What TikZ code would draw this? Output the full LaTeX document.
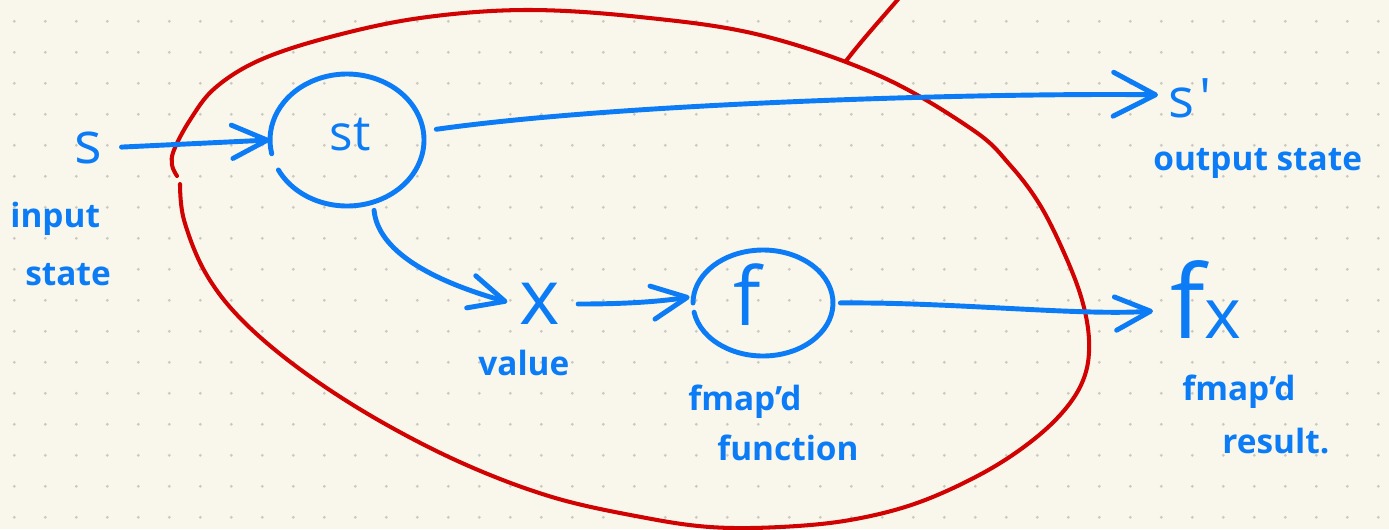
\documentclass[tikz,border=0pt]{standalone}
\usepackage{fontspec}
\setmainfont{Open Sans}
\usetikzlibrary{arrows.meta,shapes.geometric,calc}
\definecolor{paper}{RGB}{249,247,236}
\definecolor{griddot}{RGB}{203,201,193}
\definecolor{ink}{RGB}{12,124,246}
\definecolor{marker}{RGB}{208,2,2}
\begin{document}
\begin{tikzpicture}[x=0.02cm,y=-0.02cm,
  pen/.style={draw=ink,line width=2.8pt,line cap=round,line join=round},
  arr/.style={pen,-{Straight Barb[length=20pt,width=19pt,round]}},
  lbl/.style={text=ink,inner sep=0,font=\bfseries\fontsize{19}{21}\selectfont},
  sym/.style={text=ink,inner sep=0},
  ring/.style={ellipse,inner sep=0},
  loop/.style={draw=marker,line width=2.3pt,line cap=round,line join=round}]

% dotted paper
\fill[paper] (0,0) rectangle (1389,529);
\useasboundingbox (0,0) rectangle (1389,529);
\foreach \i in {0,...,44}
  \foreach \j in {0,...,16}
    \fill[griddot] (14.3+31*\i,21.3+31*\j) circle[radius=0.9pt];

% red loop around the state step
\draw[loop] plot[smooth,tension=0.6] coordinates {
  (180,184) (184,220) (205,272) (240,318) (297,367) (373,417) (462,463)
  (552,497) (641,517) (710,527) (780,527) (850,520) (917,503) (983,473)
  (1033,440) (1067,407) (1085,375) (1089,340) (1082,300) (1065,255)
  (1040,205) (1010,165) (973,130) (880,76) (760,35) (640,17) (525,10)
  (420,18) (330,37) (260,60) (215,88) (190,120) (174,150) (172,165)
  (177,176)};
\coordinate (fork) at (846,61);
\draw[loop] (fork) .. controls (862,40) and (882,18) .. (900,-3);

% input state
\node[sym,font=\fontsize{33}{33}\selectfont] (s) at (88,148) {s};
\node[lbl,anchor=base west] (in1) at (10,227) {input};
\node[lbl,anchor=base west] (in2) at (25,285) {state};

% st
\node[ring,minimum width=3.08cm,minimum height=2.64cm] (stc) at (347,140) {};
\draw[pen] ([shift={(207:1.54cm and 1.32cm)}]stc.center)
  arc[start angle=207,end angle=552,x radius=1.54cm,y radius=1.32cm];
\node[sym,font=\fontsize{28}{28}\selectfont,anchor=base] (st) at (350,150) {st};

% output state
\node[sym,font=\fontsize{31}{31}\selectfont,anchor=base west] (sp) at (1168,117) {s\kern3pt\textquotesingle};
\node[lbl,anchor=base west] (outl) at (1153,170) {output state};

% value
\node[sym,font=\fontsize{44}{44}\selectfont] (x) at (540,304) {x};
\node[lbl,anchor=base west] (vall) at (478,375) {value};

% f
\node[ring,minimum width=2.8cm,minimum height=2.12cm] (fc) at (763,303) {};
\draw[pen] ([shift={(190:1.4cm and 1.06cm)}]fc.center)
  arc[start angle=190,end angle=540,x radius=1.4cm,y radius=1.06cm];
\node[sym,font=\fontsize{46}{46}\selectfont,anchor=base] (f) at (747,325) {f};
\node[lbl,anchor=base west] (fn1) at (688,410) {fmap'd};
\node[lbl,anchor=base west] (fn2) at (717,460) {function};

% fx
\node[sym,anchor=base west] (fx) at (1170,338) {{\fontsize{58}{58}\selectfont f}{\fontsize{40}{40}\selectfont x}};
\node[lbl,anchor=base west] (fr1) at (1182,400) {fmap'd};
\node[lbl,anchor=base west] (fr2) at (1222,453) {result.};

% connectors
\draw[arr,shorten <=11pt] (s.east) -- (stc.west);
\draw[pen,-{Straight Barb[length=24pt,width=25pt,round]}]
  ($(stc.8)+(13,0)$) .. controls +(200,-28) and +(-150,-2) .. ($(sp.west)+(-10,-3)$);
\draw[arr] ($(stc.-70)+(4,7)$) .. controls +(4,40) and +(-78,-22) .. ($(x.west)+(-12,-2)$);
\draw[arr,shorten <=10pt] (x.east) .. controls +(50,0) and +(-40,6) .. ($(fc.west)+(-3,-6)$);
\draw[arr,shorten <=4pt] (fc.east) .. controls +(120,-1) and +(-73,5) .. ($(fx.base west)+(-17,-27)$);
\end{tikzpicture}
\end{document}
